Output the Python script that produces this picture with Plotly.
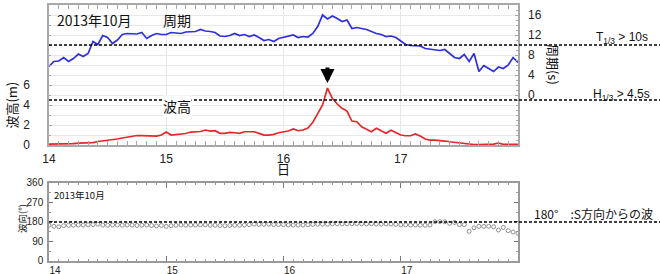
import plotly.graph_objects as go

# hourly samples from 2013-10-14 00:00 to 2013-10-18 00:00 (x in days)
hours = list(range(97))
days = [14 + h / 24 for h in hours]

period_s = [5.7, 6.7, 6.8, 7.5, 6.7, 7.3, 8.2, 7.7, 8.3, 10.7, 10.1, 11.9, 11.5, 10.3, 11.0, 12.1,
            12.3, 12.3, 12.2, 12.5, 11.3, 11.9, 12.3, 12.1, 12.1, 12.5, 12.4, 12.3, 12.6, 12.7, 12.7, 13.1,
            12.8, 12.7, 12.5, 11.8, 11.7, 11.9, 12.3, 11.9, 12.1, 11.7, 12.0, 11.5, 10.9, 11.1, 10.7, 11.3,
            11.5, 11.8, 12.0, 11.5, 11.7, 11.6, 12.3, 13.7, 16.0, 15.2, 15.8, 15.3, 14.7, 15.0, 13.3, 13.5,
            13.3, 13.1, 12.7, 12.3, 12.1, 11.7, 11.8, 11.5, 10.8, 10.1, 9.9, 9.9, 9.8, 9.3, 9.2, 9.0,
            8.9, 9.1, 8.2, 7.5, 7.3, 8.1, 6.7, 8.3, 4.7, 5.9, 5.3, 4.7, 5.6, 5.3, 6.0, 7.5, 6.5]

height_m = [0.10, 0.10, 0.15, 0.15, 0.10, 0.15, 0.20, 0.20, 0.20, 0.25, 0.35, 0.40, 0.50, 0.55, 0.60, 0.70,
            0.80, 0.90, 0.95, 0.95, 0.95, 0.95, 0.90, 1.00, 1.30, 1.00, 1.05, 1.05, 1.15, 1.30, 1.30, 1.35,
            1.50, 1.40, 1.43, 1.17, 1.17, 1.27, 1.23, 1.17, 1.33, 1.30, 1.33, 1.17, 1.00, 1.00, 1.07, 1.23,
            1.30, 1.40, 1.60, 1.43, 1.50, 1.70, 2.27, 3.17, 4.00, 5.70, 4.67, 4.10, 3.67, 3.40, 2.40, 2.33,
            1.83, 1.57, 1.33, 1.67, 1.43, 1.17, 1.47, 1.20, 1.00, 0.93, 0.93, 1.10, 0.90, 0.60, 0.50, 0.50,
            0.47, 0.40, 0.33, 0.27, 0.27, 0.20, 0.10, 0.05, 0.05, 0.07, 0.10, 0.10, 0.20, 0.07, 0.07, 0.10, 0.07]

direction_deg = [165, 160, 158, 163, 165, 165, 166, 166, 167, 168, 170, 166, 165, 166, 166, 165,
                 166, 166, 164, 165, 166, 164, 162, 164, 160, 163, 165, 166, 165, 166, 166, 167,
                 167, 165, 165, 164, 163, 164, 165, 165, 166, 168, 170, 169, 169, 170, 168, 168,
                 168, 166, 166, 166, 166, 167, 169, 170, 170, 170, 171, 172, 171, 172, 172, 173,
                 172, 171, 172, 171, 170, 171, 171, 169, 167, 167, 166, 166, 165, 165, 166, 181,
                 182, 181, 174, 178, 168, 168, 137, 153, 160, 160, 160, 158, 143, 155, 140, 134, 128]

x_ticks = [14, 15, 16, 17]
h_ticks = [0, 2, 4, 6]
t_ticks = [0, 4, 8, 12, 16]
d_ticks = [0, 90, 180, 270, 360]
period_limit = 10
height_limit = 4.5
south_dir = 180

FONT = "Liberation Sans, Arial, sans-serif"
NARROW = "Liberation Sans Narrow, Liberation Sans, Arial, sans-serif"
CJK = "Noto Sans CJK JP, sans-serif"
BORDER = "#a8a8a8"
GRID = "#e8e8e8"

fig = go.Figure()
fig.add_trace(go.Scatter(x=days, y=height_m, mode="lines", line=dict(color="#e8262a", width=1.7),
                         xaxis="x", yaxis="y", showlegend=False))
fig.add_trace(go.Scatter(x=days, y=period_s, mode="lines", line=dict(color="#2d2fe0", width=1.7),
                         xaxis="x", yaxis="y2", showlegend=False))
fig.add_trace(go.Scatter(x=days, y=direction_deg, mode="markers",
                         marker=dict(symbol="circle-open", size=4, color="#909090", line=dict(width=1)),
                         xaxis="x2", yaxis="y3", showlegend=False))

top_dom = [0.453, 1.0]
bot_dom = [0.0, 0.3047]

fig.update_layout(
    width=660, height=274,
    margin=dict(l=49, r=142, t=5, b=13, autoexpand=False),
    paper_bgcolor="white", plot_bgcolor="white",
    font=dict(family=FONT, size=12, color="#222"),
    xaxis=dict(domain=[0, 1], anchor="y", range=[14, 18], tickvals=x_ticks,
               showgrid=True, gridcolor=GRID, gridwidth=1, zeroline=False,
               showline=True, linecolor=BORDER, linewidth=1.5, mirror="allticks",
               ticks="inside", ticklen=4, tickcolor=BORDER,
               minor=dict(dtick=1 / 12, tick0=14, ticks="inside", ticklen=2, tickcolor=BORDER, showgrid=False),
               tickfont=dict(size=12, family=FONT, color="#222"), ticklabelstandoff=2),
    yaxis=dict(domain=top_dom, anchor="x", range=[0, 14], tickvals=h_ticks,
               showgrid=True, gridcolor=GRID, zeroline=False,
               showline=True, linecolor=BORDER, linewidth=1.5, mirror=True,
               ticks="inside", ticklen=3, tickcolor=BORDER,
               minor=dict(dtick=1, tick0=0, ticks="inside", ticklen=2, tickcolor=BORDER,
                          showgrid=True, gridcolor=GRID),
               tickfont=dict(size=12, family=FONT, color="#222"), ticklabelstandoff=15),
    yaxis2=dict(overlaying="y", side="right", anchor="x", range=[-10, 18], tickvals=t_ticks,
                showgrid=False, zeroline=False, showline=False,
                ticks="inside", ticklen=3, tickcolor=BORDER,
                minor=dict(dtick=1, ticks="inside", ticklen=2, tickcolor=BORDER),
                tickfont=dict(size=12, family=NARROW, color="#222"), ticklabelstandoff=9),
    xaxis2=dict(domain=[0, 1], anchor="y3", range=[14, 18], tickvals=x_ticks,
                showgrid=False, zeroline=False,
                showline=True, linecolor="#999", linewidth=1.5, mirror="allticks",
                ticks="inside", ticklen=5, tickcolor="#777",
                minor=dict(dtick=1 / 12, tick0=14, ticks="inside", ticklen=2, tickcolor="#999"),
                tickfont=dict(size=10, family=NARROW, color="#222"), ticklabelshift=6, ticklabelstandoff=-1),
    yaxis3=dict(domain=bot_dom, anchor="x2", range=[0, 360], tickvals=d_ticks,
                showgrid=False, zeroline=False,
                showline=True, linecolor="#999", linewidth=1.5, mirror="allticks",
                ticks="inside", ticklen=4, tickcolor="#777",
                minor=dict(dtick=45, ticks="inside", ticklen=2, tickcolor="#999"),
                tickfont=dict(size=10, family=NARROW, color="#222"), ticklabelstandoff=2),
)

dash = dict(color="black", width=1.4, dash="3px,2px")
fig.add_shape(type="line", xref="paper", yref="y2", x0=0, x1=1.31, y0=period_limit, y1=period_limit, line=dash)
fig.add_shape(type="line", xref="paper", yref="y", x0=0, x1=1.31, y0=height_limit, y1=height_limit, line=dash)
fig.add_shape(type="line", xref="paper", yref="y3", x0=0, x1=1.31, y0=south_dir, y1=south_dir, line=dash)

# arrow pointing at the wave-height peak
peak_i = max(range(len(height_m)), key=lambda i: height_m[i])
fig.add_annotation(x=days[peak_i], y=height_m[peak_i], xref="x", yref="y", text="",
                   showarrow=True, arrowhead=2, arrowsize=0.7, arrowwidth=4, arrowcolor="black",
                   ax=0, ay=-22, standoff=5)

def note(text, x, y, size=14, xanchor="left", angle=0, xref="paper", bg=None, family=CJK):
    fig.add_annotation(text=text, x=x, y=y, xref=xref, yref="paper", showarrow=False,
                       xanchor=xanchor, yanchor="middle", textangle=angle,
                       font=dict(family=family, size=size, color="#111"),
                       bgcolor=bg, borderpad=0)

note("2013年10月", 0.0149, 0.941, size=14)
note("周期", 0.241, 0.941, size=14)
note("波高", 0.241, 0.606, size=14, bg="white")
note("波高(m)", -0.08, 0.609, size=13, xanchor="center", angle=-90)
note("周期(s)", 1.0746, 0.766, size=13, xanchor="center", angle=90)
note("日", 16, 0.36, size=13, xanchor="center", xref="x")
note("T<sub>1/3</sub> &gt; 10s", 1.2217, 0.871, size=12, xanchor="center", family=FONT)
note("H<sub>1/3</sub> &gt; 4.5s", 1.2217, 0.648, size=12, xanchor="center", family=FONT)
note("180°　:S方向からの波", 1.162, 0.1875, size=12, xanchor="center")
note("2013年10月", 0.0085, 0.258, size=9.5)
note("波向(°)", -0.0576, 0.168, size=9.5, xanchor="center", angle=-90)

fig.write_html("out.html", config={"displayModeBar": False},
               post_script="document.body.style.margin='0';document.body.style.padding='0';"
                           "document.documentElement.style.overflow='hidden';")
